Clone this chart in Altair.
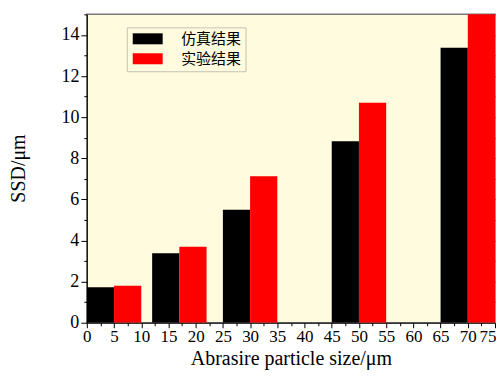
import altair as alt
import pandas as pd

sizes = [5, 17, 30, 50, 70]
simulated = [1.72, 3.38, 5.50, 8.83, 13.38]
experimental = [1.80, 3.69, 7.12, 10.70, 15.3]
series = ["仿真结果", "实验结果"]
colors = ["#000000", "#ff0000"]
x_ticks = [i * 2.5 for i in range(31)]
y_ticks = list(range(16))

rows = []
for s, a, b in zip(sizes, simulated, experimental):
    rows.append({"size": s, "series": series[0], "side": -1, "ssd": a})
    rows.append({"size": s, "series": series[1], "side": 0, "ssd": b})
df = pd.DataFrame(rows)

BW = 5
bg = "#fefbdf"
serif = "Liberation Serif"

x_enc = alt.X(
    "x0:Q",
    scale=alt.Scale(domain=[0, 75], nice=False, zero=False),
    axis=alt.Axis(
        values=x_ticks,
        labelExpr="datum.value % 5 === 0 ? datum.label : ''",
        tickSize={"condition": {"test": "datum.value % 5 === 0", "value": 5}, "value": 3},
        tickColor="black",
        domainColor="black",
        labelFont=serif,
        labelFontSize=17,
        labelColor="black",
        labelPadding=1,
        labelFlush=False,
        labelAlign={"condition": {"test": "datum.value === 75", "value": "right"}, "value": "center"},
        labelOffset={"condition": {"test": "datum.value === 75", "value": 1}, "value": 0},
        grid=False,
        title="Abrasire particle size/μm",
        titleFont=serif,
        titleFontSize=20,
        titleFontWeight="normal",
        titleColor="black",
        titleY=46,
        titleBaseline="bottom",
    ),
)
x2_enc = alt.X2("x1:Q")

y_scale = alt.Scale(domain=[0, 15], nice=False)

base = alt.Chart(df).transform_calculate(
    x0=f"datum.size + datum.side * {BW}",
    x1=f"datum.size + datum.side * {BW} + {BW}",
)

bars = base.mark_rect(clip=True).encode(
    x=x_enc,
    x2=x2_enc,
    y=alt.Y(
        "ssd:Q",
        scale=y_scale,
        axis=alt.Axis(
            values=y_ticks,
            labelExpr="datum.value % 2 === 0 ? datum.label : ''",
            tickSize={"condition": {"test": "datum.value % 2 === 0", "value": 6}, "value": 3},
            tickColor="black",
            domainColor="black",
            labelFont=serif,
            labelFontSize=18,
            labelColor="black",
            labelPadding=2,
            grid=False,
            title="SSD/μm",
            titleFont=serif,
            titleFontSize=20,
            titleFontWeight="normal",
            titleColor="black",
            titleX=-68,
            titleY=154,
            titleAngle=-90,
            titleAlign="center",
            titleBaseline="middle",
        ),
    ),
    y2=alt.datum(0),
    color=alt.Color(
        "series:N",
        scale=alt.Scale(domain=series, range=colors),
        legend=alt.Legend(
            title=None,
            orient="none",
            legendX=40,
            legendY=13,
            fillColor=bg,
            strokeColor="#c4c2b4",
            padding=4,
            symbolType="M-2.727,-1H2.727V1H-2.727Z",
            symbolSize=121,
            symbolOffset=9.5,
            symbolStrokeWidth=0,
            symbolOpacity=1,
            labelOffset=26,
            labelFont="Noto Sans CJK SC",
            labelFontSize=15,
            labelColor="black",
            rowPadding=4,
        ),
    ),
)

right = base.mark_rect(opacity=0).encode(
    x=x_enc,
    x2=x2_enc,
    y=alt.Y(
        "ssd:Q",
        scale=y_scale,
        axis=alt.Axis(
            orient="right",
            values=y_ticks,
            labels=False,
            domain=False,
            offset=-4,
            tickSize=4,
            tickColor="#333333",
            grid=False,
            title=None,
        ),
    ),
    y2=alt.datum(0),
)

chart = (
    alt.layer(bars, right)
    .resolve_axis(y="independent")
    .properties(
        width=409,
        height=309,
        autosize=alt.AutoSizeParams(type="none"),
        padding={"left": 79, "top": 6, "right": 1, "bottom": 47},
        background="white",
    )
    .configure_view(stroke="#7a7a7a", strokeWidth=1.5, fill=bg)
)

chart.save("out.html", embed_options={"renderer": "svg", "actions": False})
